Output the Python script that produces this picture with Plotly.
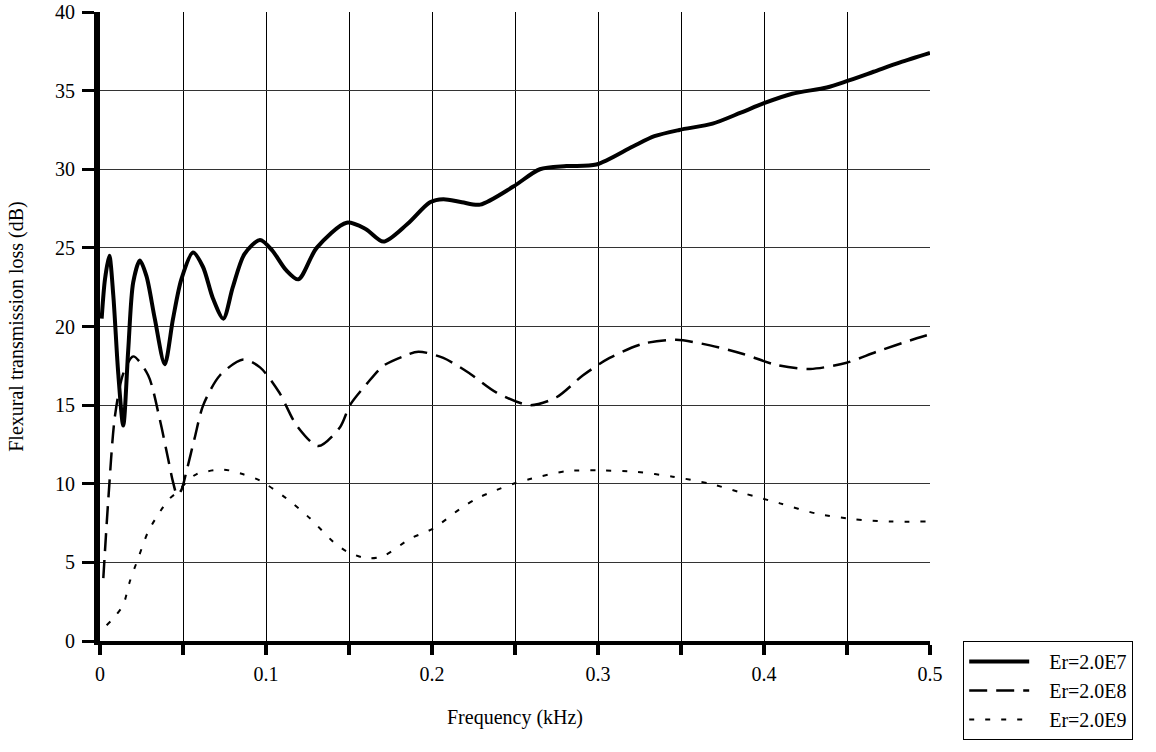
import plotly.graph_objects as go

# Frequency (kHz) and flexural transmission loss (dB)
f_e7 = [0.001, 0.003, 0.0056, 0.008, 0.011, 0.014, 0.017, 0.020, 0.024, 0.028,
        0.033, 0.039, 0.044, 0.049, 0.056, 0.062, 0.068, 0.0743, 0.080, 0.087,
        0.0964, 0.104, 0.112, 0.1195, 0.1305, 0.1486, 0.160, 0.1707, 0.185, 0.1988,
        0.2068, 0.218, 0.229, 0.249, 0.265, 0.281, 0.299, 0.321, 0.334, 0.349,
        0.369, 0.386, 0.400, 0.417, 0.4378, 0.4498, 0.466, 0.482, 0.500]
tl_e7 = [20.5, 23.0, 24.5, 22.0, 17.0, 13.7, 18.5, 22.8, 24.2, 23.2,
         20.5, 17.6, 20.5, 23.0, 24.7, 23.8, 21.8, 20.5, 22.5, 24.6,
         25.5, 24.8, 23.6, 23.0, 25.0, 26.6, 26.2, 25.4, 26.5, 27.9,
         28.1, 27.9, 27.75, 28.9, 30.0, 30.2, 30.3, 31.45, 32.1, 32.5,
         32.9, 33.6, 34.2, 34.8, 35.2, 35.6, 36.2, 36.8, 37.4]

f_e8 = [0.002, 0.005, 0.009, 0.014, 0.020, 0.029, 0.036, 0.041, 0.044, 0.0465,
        0.049, 0.052, 0.057, 0.0622, 0.0723, 0.0863, 0.0964, 0.108, 0.1185, 0.1315,
        0.1446, 0.1506, 0.1607, 0.1707, 0.1827, 0.1918, 0.2068, 0.2229, 0.2389, 0.259,
        0.275, 0.291, 0.307, 0.327, 0.347, 0.3675, 0.3875, 0.4076, 0.4277, 0.4498,
        0.4679, 0.492, 0.500]
tl_e8 = [4.0, 9.0, 14.3, 17.0, 18.1, 16.9, 14.1, 11.6, 10.1, 9.3,
         9.6, 10.75, 12.9, 15.0, 16.9, 17.9, 17.4, 15.8, 13.7, 12.4,
         13.6, 15.0, 16.35, 17.5, 18.1, 18.4, 18.0, 17.0, 15.8, 15.0,
         15.5, 16.9, 18.0, 18.9, 19.15, 18.8, 18.25, 17.55, 17.3, 17.7,
         18.4, 19.25, 19.5]

f_e9 = [0.004, 0.009, 0.014, 0.018, 0.023, 0.029, 0.036, 0.042, 0.047, 0.052,
        0.058, 0.0743, 0.0863, 0.0964, 0.1124, 0.1265, 0.1406, 0.1486, 0.1607, 0.1707,
        0.1867, 0.2008, 0.2169, 0.2269, 0.2389, 0.249, 0.259, 0.281, 0.301, 0.3233,
        0.345, 0.3675, 0.3875, 0.4096, 0.4317, 0.4538, 0.476, 0.498]
tl_e9 = [1.0, 1.56, 2.3, 3.8, 5.26, 6.95, 8.2, 9.06, 9.5, 10.1,
         10.6, 10.9, 10.6, 10.2, 9.06, 7.8, 6.3, 5.7, 5.26, 5.4,
         6.5, 7.16, 8.4, 9.06, 9.6, 10.0, 10.3, 10.8, 10.85, 10.75,
         10.45, 10.0, 9.4, 8.75, 8.1, 7.75, 7.6, 7.6]

names = ["Er=2.0E7", "Er=2.0E8", "Er=2.0E9"]

FONT = "Liberation Serif"
PAD = "\u00a0\u00a0\u00a0"

fig = go.Figure()
fig.add_trace(go.Scatter(x=f_e7, y=tl_e7, name=PAD + names[0], mode="lines",
                         line=dict(color="black", width=4, shape="spline", smoothing=0.8)))
fig.add_trace(go.Scatter(x=f_e8, y=tl_e8, name=PAD + names[1], mode="lines",
                         line=dict(color="black", width=2.5, dash="18px,9px", shape="spline", smoothing=0.8)))
fig.add_trace(go.Scatter(x=f_e9, y=tl_e9, name=PAD + names[2], mode="lines",
                         line=dict(color="black", width=2, dash="5px,11px", shape="spline", smoothing=0.8)))

fig.update_layout(
    width=1156, height=752,
    margin=dict(l=100, r=226, t=12, b=109),
    paper_bgcolor="white", plot_bgcolor="white",
    font=dict(family=FONT, size=20, color="black"),
    showlegend=True,
    legend=dict(x=1.04, y=0.0, xanchor="left", yanchor="top",
                bordercolor="black", borderwidth=1, bgcolor="white",
                font=dict(family=FONT, size=20, color="black"),
                itemwidth=60, tracegroupgap=0),
)

fig.update_xaxes(
    range=[0, 0.5], dtick=0.1, tick0=0, automargin=False,
    showgrid=True, gridcolor="black", gridwidth=1,
    showline=True, linecolor="black", linewidth=4,
    ticks="outside", ticklen=10, tickwidth=4, tickcolor="black",
    ticklabelstandoff=2,
    tickfont=dict(family=FONT, size=20),
    minor=dict(dtick=0.05, tick0=0, showgrid=True, gridcolor="black", gridwidth=1,
               ticks="outside", ticklen=10, tickwidth=4, tickcolor="black"),
    zeroline=False,
    title=dict(text="Frequency (kHz)", font=dict(family=FONT, size=20), standoff=27),
)
fig.update_yaxes(
    range=[0, 40], dtick=5, tick0=0, automargin=False,
    showgrid=True, gridcolor="#333333", gridwidth=1,
    showline=True, linecolor="black", linewidth=6,
    ticks="outside", ticklen=12, tickwidth=3, tickcolor="black",
    ticklabelstandoff=3,
    tickfont=dict(family=FONT, size=20),
    zeroline=False,
    title=dict(text="Flexural transmission loss (dB)", font=dict(family=FONT, size=20), standoff=28),
)

fig.write_html("out.html")
